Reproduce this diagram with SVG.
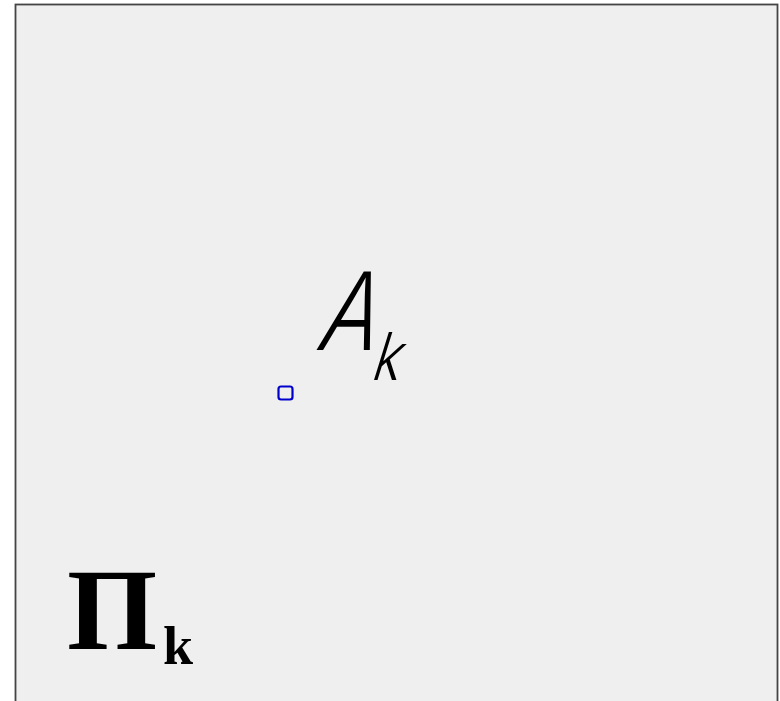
<svg xmlns="http://www.w3.org/2000/svg" width="780" height="701" viewBox="0 0 780 701">
<style>
.lbl{font-family:"Inter","DejaVu Sans",sans-serif;font-style:italic;font-weight:300;fill:#000}
.pi{font-family:"Liberation Serif","Times New Roman",serif;font-weight:bold;fill:#000}
</style>
<rect x="0" y="0" width="780" height="701" fill="#ffffff"/>
<g id="plane">
<rect x="15.5" y="4.5" width="762" height="700" fill="#efefef" stroke="#444444" stroke-width="1.8"/>
</g>
<g id="point">
<rect x="278.5" y="386.5" width="14" height="13" rx="2.5" fill="none" stroke="#0000cc" stroke-width="2.2"/>
<text class="lbl" x="0" y="0" transform="translate(318,350) skewX(-10) scale(0.8,1)" font-size="108">A</text>
<text class="lbl" x="0" y="0" transform="translate(372,380) skewX(-10) scale(0.8,1)" font-size="66">k</text>
</g>
<g id="label">
<text class="pi" x="67" y="649" font-size="116">Π</text>
<text class="pi" x="163" y="664" font-size="54">k</text>
</g>
</svg>
